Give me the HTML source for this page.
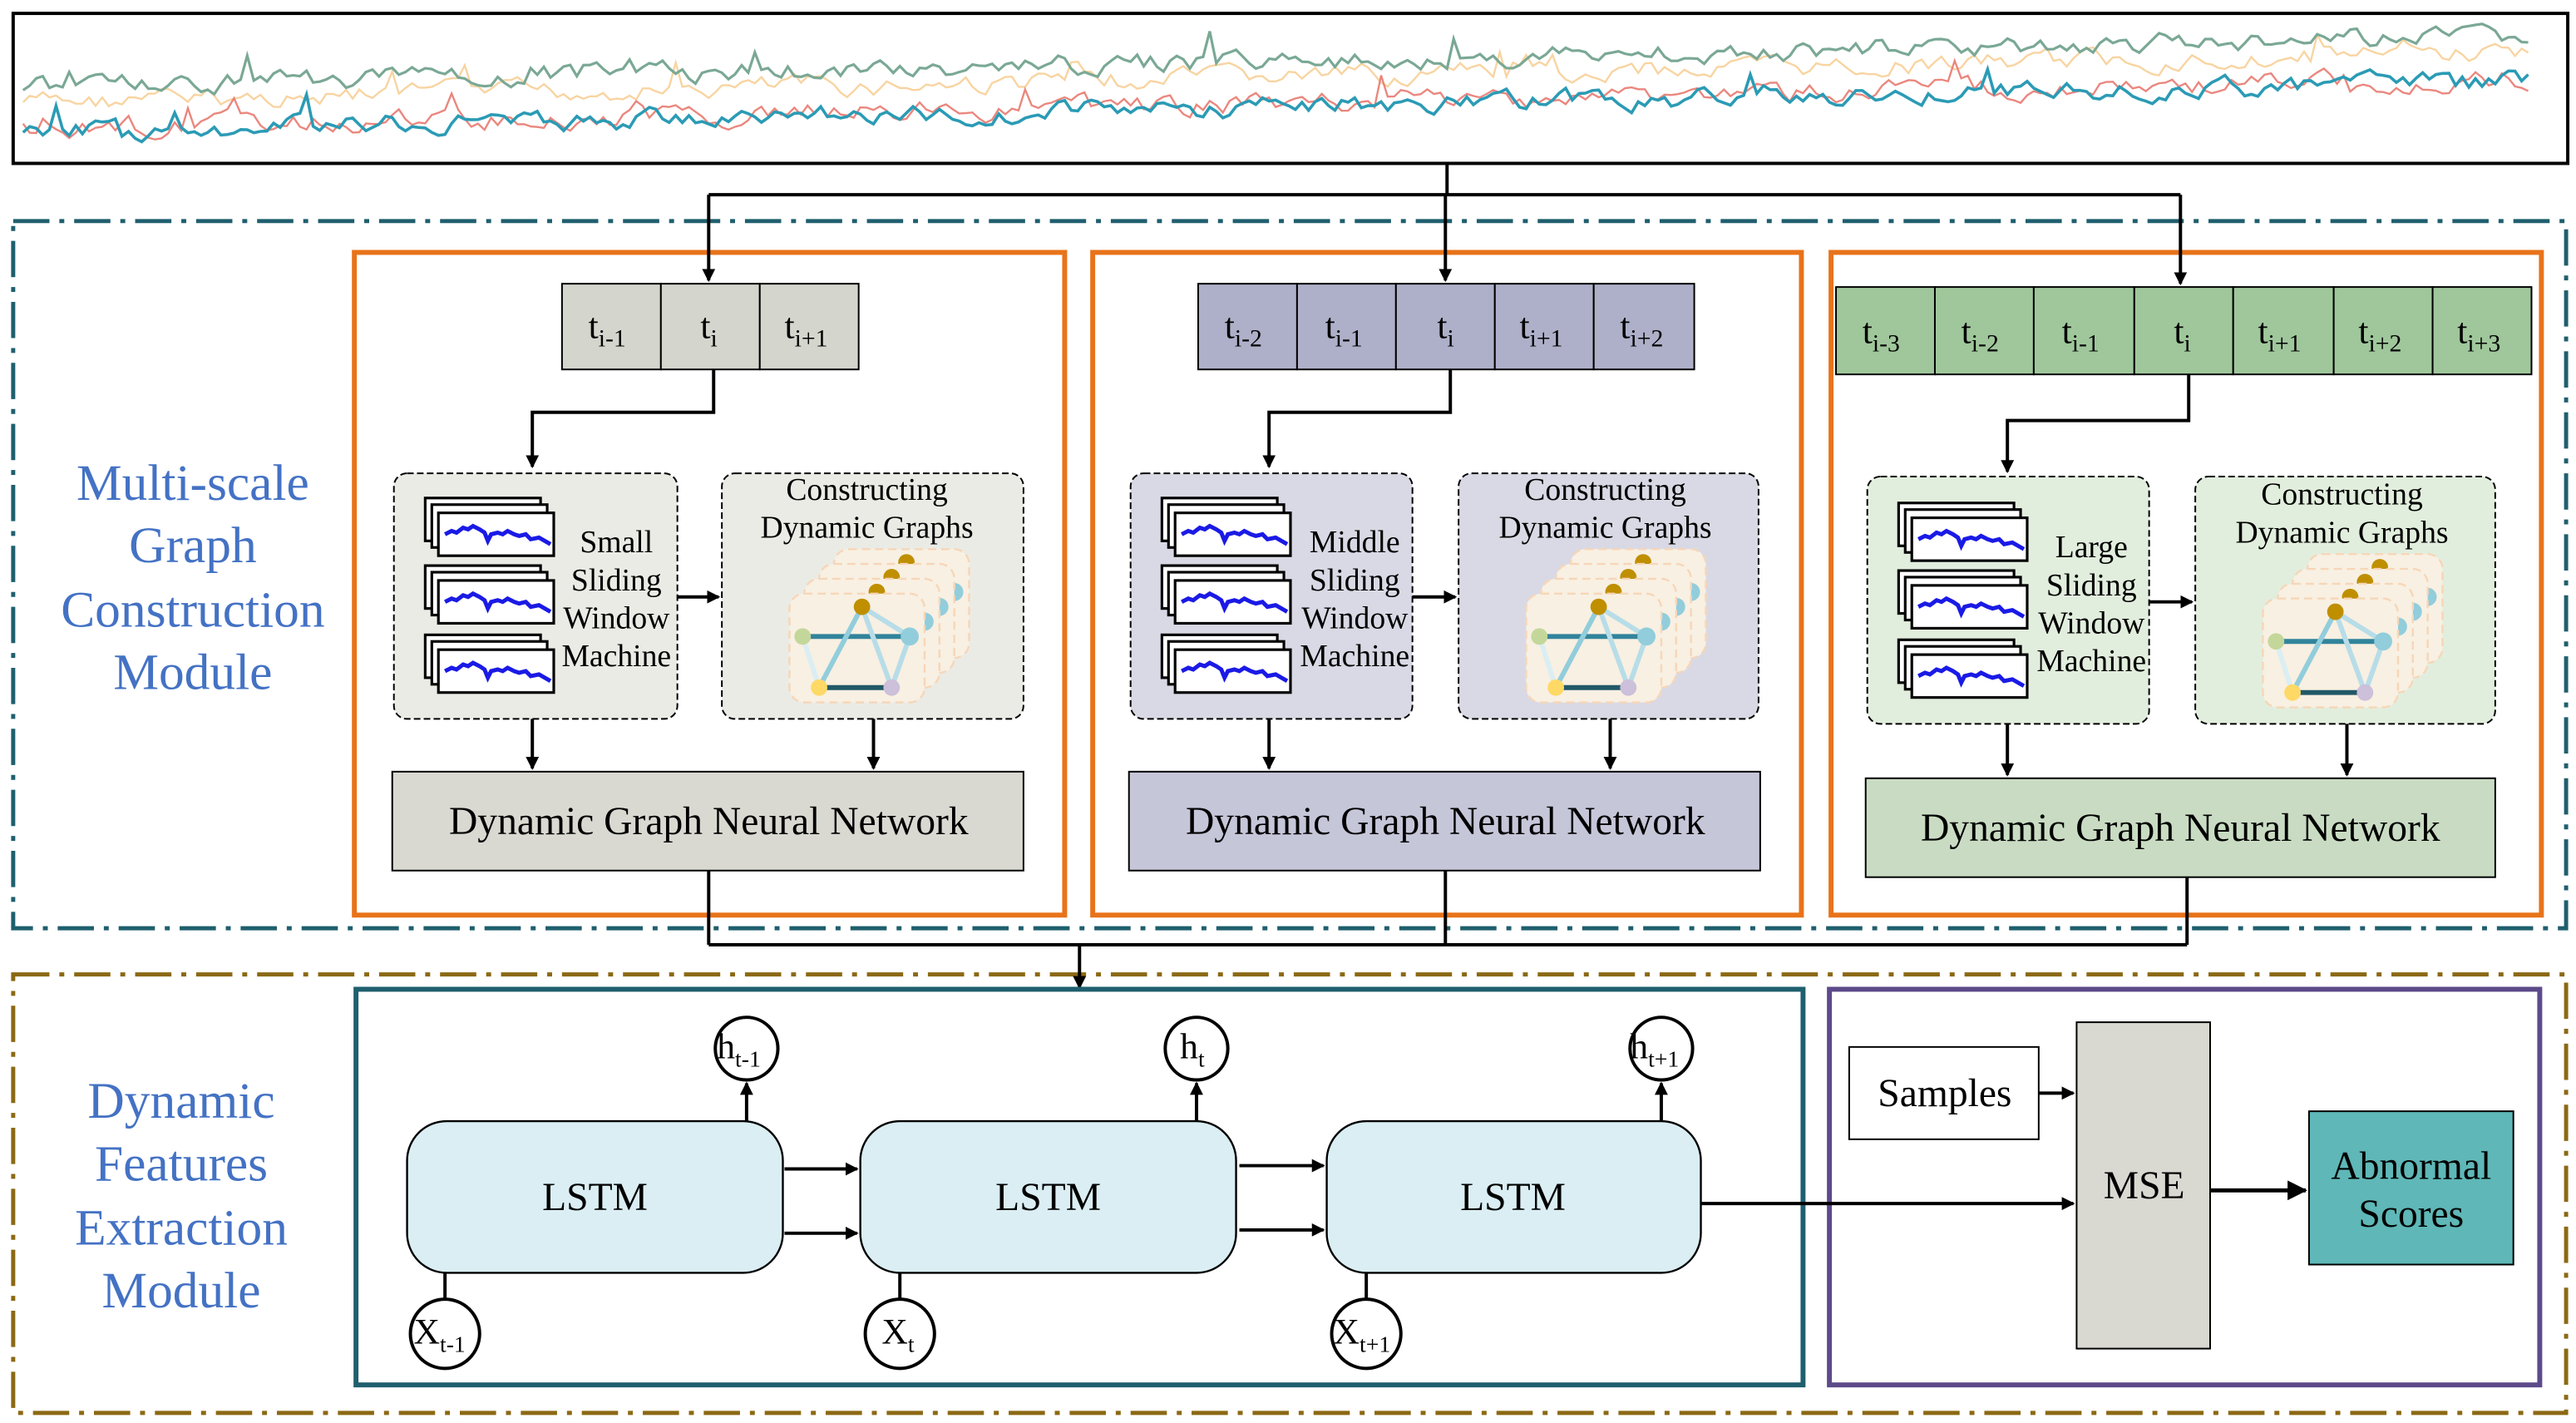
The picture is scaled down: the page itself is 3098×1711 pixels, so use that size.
<!DOCTYPE html>
<html><head><meta charset="utf-8"><style>
html,body{margin:0;padding:0;background:#fff;}
svg{display:block;font-family:"Liberation Serif","DejaVu Serif",serif;}
svg text, svg tspan{font-family:"Liberation Serif","DejaVu Serif",serif;}
</style></head><body>
<svg id="s" width="3098" height="1711" viewBox="0 0 1563 863" xmlns="http://www.w3.org/2000/svg">
<defs>
<marker id="ah" markerWidth="8" markerHeight="8" refX="7" refY="4" orient="auto" markerUnits="userSpaceOnUse" viewBox="0 0 8 8">
<path d="M0,0 L8,4 L0,8 z" fill="#000"/></marker>
<marker id="ahb" markerWidth="12" markerHeight="12" refX="11" refY="6" orient="auto" markerUnits="userSpaceOnUse" viewBox="0 0 12 12">
<path d="M0,0 L12,6 L0,12 z" fill="#000"/></marker>
<g id="win">
<rect x="0" y="0" width="70" height="26" fill="#fff" stroke="#000" stroke-width="1.6"/>
<rect x="4" y="4" width="70" height="26" fill="#fff" stroke="#000" stroke-width="1.6"/>
<rect x="8" y="9" width="70" height="26" fill="#fff" stroke="#000" stroke-width="1.6"/>
<polyline points="12,22 16,20 19,21 23,18 26,19 29,17 33,19 36,21 38,26 40,22 44,21 47,22 50,20 54,22 57,23 61,22 64,25 69,24 76,28" fill="none" stroke="#1a1ae6" stroke-width="2.5"/>
</g>
<g id="layer">
<rect x="0" y="0" width="82" height="66" rx="9" fill="#f8f0e2" stroke="#f6d6b8" stroke-width="1.2" stroke-dasharray="5,3"/>
<line x1="8" y1="26" x2="73" y2="26" stroke="#31849b" stroke-width="3"/>
<line x1="18" y1="57" x2="62" y2="57" stroke="#215867" stroke-width="3"/>
<line x1="8" y1="26" x2="18" y2="57" stroke="#daeef3" stroke-width="3"/>
<line x1="44" y1="8" x2="18" y2="57" stroke="#92cddc" stroke-width="3"/>
<line x1="44" y1="8" x2="62" y2="57" stroke="#b7dde8" stroke-width="3"/>
<line x1="44" y1="8" x2="73" y2="26" stroke="#b7dde8" stroke-width="3"/>
<line x1="73" y1="26" x2="62" y2="57" stroke="#b7dde8" stroke-width="3"/>
<circle cx="44" cy="8" r="5" fill="#bf8f00"/>
<circle cx="8" cy="26" r="5" fill="#c4d79b"/>
<circle cx="73" cy="26" r="5.5" fill="#92cddc"/>
<circle cx="18" cy="57" r="5" fill="#ffd966"/>
<circle cx="62" cy="57" r="5" fill="#ccc0da"/>
</g>
<g id="gr">
<use href="#layer" x="27" y="-27"/>
<use href="#layer" x="18" y="-18"/>
<use href="#layer" x="9" y="-9"/>
<use href="#layer" x="0" y="0"/>
</g>
</defs>

<rect x="8" y="8" width="1550" height="91" fill="#fff" stroke="#000" stroke-width="2"/>
<g id="ts"></g>

<rect x="8" y="134" width="1549" height="429" fill="none" stroke="#1f5f6e" stroke-width="2.5" stroke-dasharray="22,6,3,6"/>
<rect x="8" y="591" width="1549" height="266" fill="none" stroke="#8b6914" stroke-width="2.5" stroke-dasharray="22,6,3,6"/>

<g font-size="31" fill="#4472c4" text-anchor="middle">
<text x="117" y="303">Multi-scale</text>
<text x="117" y="341">Graph</text>
<text x="117" y="380">Construction</text>
<text x="117" y="418">Module</text>
<text x="110" y="678">Dynamic</text>
<text x="110" y="716">Features</text>
<text x="110" y="755">Extraction</text>
<text x="110" y="793">Module</text>
</g>

<g fill="none" stroke="#e8731a" stroke-width="3">
<rect x="215" y="153" width="431" height="402"/>
<rect x="663" y="153" width="430" height="402"/>
<rect x="1111" y="153" width="431" height="402"/>
</g>

<g stroke="#000" stroke-width="2" fill="none">
<line x1="878" y1="99" x2="878" y2="118"/>
<line x1="430" y1="118" x2="1323" y2="118"/>
<line x1="430" y1="118" x2="430" y2="170" marker-end="url(#ah)"/>
<line x1="877" y1="118" x2="877" y2="170" marker-end="url(#ah)"/>
<line x1="1323" y1="118" x2="1323" y2="172" marker-end="url(#ah)"/>
</g>

<g stroke="#000" stroke-width="1">
<g fill="#d4d5cd"><rect x="341" y="172" width="60" height="52"/><rect x="401" y="172" width="60" height="52"/><rect x="461" y="172" width="60" height="52"/></g>
<g fill="#aeb0c9"><rect x="727" y="172" width="60" height="52"/><rect x="787" y="172" width="60" height="52"/><rect x="847" y="172" width="60" height="52"/><rect x="907" y="172" width="60" height="52"/><rect x="967" y="172" width="61" height="52"/></g>
<g fill="#9fc79b"><rect x="1114" y="174" width="60" height="53"/><rect x="1174" y="174" width="60" height="53"/><rect x="1234" y="174" width="61" height="53"/><rect x="1295" y="174" width="60" height="53"/><rect x="1355" y="174" width="61" height="53"/><rect x="1416" y="174" width="60" height="53"/><rect x="1476" y="174" width="60" height="53"/></g>
</g>
<g font-size="22">
<text x="357" y="205">t<tspan font-size="15" dy="5">i-1</tspan></text>
<text x="425" y="205">t<tspan font-size="15" dy="5">i</tspan></text>
<text x="476" y="205">t<tspan font-size="15" dy="5">i+1</tspan></text>
<text x="743" y="205">t<tspan font-size="15" dy="5">i-2</tspan></text>
<text x="804" y="205">t<tspan font-size="15" dy="5">i-1</tspan></text>
<text x="872" y="205">t<tspan font-size="15" dy="5">i</tspan></text>
<text x="922" y="205">t<tspan font-size="15" dy="5">i+1</tspan></text>
<text x="983" y="205">t<tspan font-size="15" dy="5">i+2</tspan></text>
<text x="1130" y="208">t<tspan font-size="15" dy="5">i-3</tspan></text>
<text x="1190" y="208">t<tspan font-size="15" dy="5">i-2</tspan></text>
<text x="1251" y="208">t<tspan font-size="15" dy="5">i-1</tspan></text>
<text x="1319" y="208">t<tspan font-size="15" dy="5">i</tspan></text>
<text x="1370" y="208">t<tspan font-size="15" dy="5">i+1</tspan></text>
<text x="1431" y="208">t<tspan font-size="15" dy="5">i+2</tspan></text>
<text x="1491" y="208">t<tspan font-size="15" dy="5">i+3</tspan></text>
</g>

<g stroke="#000" stroke-width="2" fill="none">
<polyline points="433,224 433,250 323,250 323,283" marker-end="url(#ah)"/>
<polyline points="880,224 880,250 770,250 770,283" marker-end="url(#ah)"/>
<polyline points="1328,227 1328,255 1218,255 1218,286" marker-end="url(#ah)"/>
</g>

<g stroke="#000" stroke-width="1" stroke-dasharray="4,2">
<rect x="239" y="287" width="172" height="149" rx="8" fill="#ebebe6"/>
<rect x="438" y="287" width="183" height="149" rx="8" fill="#ebebe6"/>
<rect x="686" y="287" width="171" height="149" rx="8" fill="#d9d9e5"/>
<rect x="885" y="287" width="182" height="149" rx="8" fill="#d9d9e5"/>
<rect x="1133" y="289" width="171" height="150" rx="8" fill="#e2eedd"/>
<rect x="1332" y="289" width="182" height="150" rx="8" fill="#e2eedd"/>
</g>

<use href="#win" x="258" y="302"/><use href="#win" x="258" y="343"/><use href="#win" x="258" y="385"/>
<use href="#win" x="705" y="302"/><use href="#win" x="705" y="343"/><use href="#win" x="705" y="385"/>
<use href="#win" x="1152" y="305"/><use href="#win" x="1152" y="346"/><use href="#win" x="1152" y="388"/>

<g font-size="19" text-anchor="middle">
<text x="374" y="335">Small</text><text x="374" y="358">Sliding</text><text x="374" y="381">Window</text><text x="374" y="404">Machine</text>
<text x="822" y="335">Middle</text><text x="822" y="358">Sliding</text><text x="822" y="381">Window</text><text x="822" y="404">Machine</text>
<text x="1269" y="338">Large</text><text x="1269" y="361">Sliding</text><text x="1269" y="384">Window</text><text x="1269" y="407">Machine</text>
<text x="526" y="303">Constructing</text><text x="526" y="326">Dynamic Graphs</text>
<text x="974" y="303">Constructing</text><text x="974" y="326">Dynamic Graphs</text>
<text x="1421" y="306">Constructing</text><text x="1421" y="329">Dynamic Graphs</text>
</g>

<use href="#gr" x="479" y="360"/>
<use href="#gr" x="926" y="360"/>
<use href="#gr" x="1373" y="363"/>

<g stroke="#000" stroke-width="2" fill="none">
<line x1="411" y1="362" x2="436" y2="362" marker-end="url(#ah)"/>
<line x1="857" y1="362" x2="883" y2="362" marker-end="url(#ah)"/>
<line x1="1304" y1="365" x2="1330" y2="365" marker-end="url(#ah)"/>
<line x1="323" y1="436" x2="323" y2="466" marker-end="url(#ah)"/>
<line x1="530" y1="436" x2="530" y2="466" marker-end="url(#ah)"/>
<line x1="770" y1="436" x2="770" y2="466" marker-end="url(#ah)"/>
<line x1="977" y1="436" x2="977" y2="466" marker-end="url(#ah)"/>
<line x1="1218" y1="439" x2="1218" y2="470" marker-end="url(#ah)"/>
<line x1="1424" y1="439" x2="1424" y2="470" marker-end="url(#ah)"/>
</g>

<g stroke="#000" stroke-width="1">
<rect x="238" y="468" width="383" height="60" fill="#d9d9d2"/>
<rect x="685" y="468" width="383" height="60" fill="#c6c6d9"/>
<rect x="1132" y="472" width="382" height="60" fill="#c9dcc3"/>
</g>
<g font-size="24" text-anchor="middle">
<text x="430" y="506">Dynamic Graph Neural Network</text>
<text x="877" y="506">Dynamic Graph Neural Network</text>
<text x="1323" y="510">Dynamic Graph Neural Network</text>
</g>

<g stroke="#000" stroke-width="2" fill="none">
<line x1="430" y1="528" x2="430" y2="573"/>
<line x1="877" y1="528" x2="877" y2="573"/>
<line x1="1327" y1="532" x2="1327" y2="573"/>
<line x1="430" y1="573" x2="1327" y2="573"/>
<line x1="655" y1="573" x2="655" y2="599" marker-end="url(#ah)"/>
</g>

<rect x="216" y="600" width="878" height="240" fill="none" stroke="#1f5f6e" stroke-width="3"/>
<rect x="1110" y="600" width="431" height="240" fill="none" stroke="#5c4a8a" stroke-width="3"/>

<g stroke="#000" stroke-width="1.2" fill="#daeef3">
<rect x="247" y="680" width="228" height="92" rx="24"/>
<rect x="522" y="680" width="228" height="92" rx="24"/>
<rect x="805" y="680" width="227" height="92" rx="24"/>
</g>
<g font-size="24" text-anchor="middle">
<text x="361" y="734">LSTM</text><text x="636" y="734">LSTM</text><text x="918" y="734">LSTM</text>
</g>

<g stroke="#000" stroke-width="2" fill="none">
<line x1="453" y1="680" x2="453" y2="657" marker-end="url(#ah)"/>
<line x1="726" y1="680" x2="726" y2="657" marker-end="url(#ah)"/>
<line x1="1008" y1="680" x2="1008" y2="657" marker-end="url(#ah)"/>
<line x1="270" y1="788" x2="270" y2="772"/>
<line x1="546" y1="788" x2="546" y2="772"/>
<line x1="829" y1="788" x2="829" y2="772"/>
<line x1="476" y1="709" x2="520" y2="709" marker-end="url(#ah)"/>
<line x1="476" y1="748" x2="520" y2="748" marker-end="url(#ah)"/>
<line x1="752" y1="707" x2="803" y2="707" marker-end="url(#ah)"/>
<line x1="752" y1="746" x2="803" y2="746" marker-end="url(#ah)"/>
<line x1="1032" y1="730" x2="1258" y2="730" marker-end="url(#ah)"/>
<line x1="1237" y1="663" x2="1258" y2="663" marker-end="url(#ah)"/>
<line x1="1341" y1="722" x2="1399" y2="722" marker-end="url(#ahb)" stroke-width="2.5"/>
</g>

<g stroke="#000" stroke-width="2" fill="#fff">
<circle cx="453" cy="636" r="19"/><circle cx="726" cy="636" r="19"/><circle cx="1008" cy="636" r="19"/>
<circle cx="270" cy="809" r="21"/><circle cx="546" cy="809" r="21"/><circle cx="829" cy="809" r="21"/>
</g>
<g font-size="22">
<text x="435" y="642">h<tspan font-size="14" dy="5">t-1</tspan></text>
<text x="716" y="642">h<tspan font-size="14" dy="5">t</tspan></text>
<text x="989" y="642">h<tspan font-size="14" dy="5">t+1</tspan></text>
<text x="251" y="815">X<tspan font-size="14" dy="5">t-1</tspan></text>
<text x="535" y="815">X<tspan font-size="14" dy="5">t</tspan></text>
<text x="809" y="815">X<tspan font-size="14" dy="5">t+1</tspan></text>
</g>

<rect x="1122" y="635" width="115" height="56" fill="#fff" stroke="#000" stroke-width="1"/>
<text x="1180" y="671" font-size="24" text-anchor="middle">Samples</text>
<rect x="1260" y="620" width="81" height="198" fill="#d9d9d2" stroke="#000" stroke-width="1"/>
<text x="1301" y="727" font-size="24" text-anchor="middle">MSE</text>
<rect x="1401" y="674" width="124" height="93" fill="#5fb7b7" stroke="#000" stroke-width="1"/>
<text x="1463" y="715" font-size="24" text-anchor="middle">Abnormal</text>
<text x="1463" y="744" font-size="24" text-anchor="middle">Scores</text>
</svg>
<script>
(function(){
var g=document.getElementById('ts');var seed=7;function r(){seed=(seed*9301+49297)%233280;return seed/233280;}
var cfg=[["#f6c98a",62,1.2,0.8],["#e87a70",78,1.2,0.9],["#7aa895",52,1.6,1],["#2b9bb5",80,1.8,1]];
var trend=function(x){return -0.02*(x-14);};
var ns="http://www.w3.org/2000/svg";
cfg.forEach(function(c){var pts=[];var v=0;for(var x=14;x<=1535;x+=4){v=v*0.6+(r()-0.5)*10;var sp=(r()<0.03)?-(r()*14):0;var y=c[1]+trend(x)+v+sp;if(y<14)y=14;if(y>95)y=95;pts.push(x+","+y.toFixed(1));}
var p=document.createElementNS(ns,"polyline");p.setAttribute("points",pts.join(" "));p.setAttribute("fill","none");p.setAttribute("stroke",c[0]);p.setAttribute("stroke-width",c[2]);p.setAttribute("opacity",c[3]);g.appendChild(p);});
})();
</script>
</body></html>
